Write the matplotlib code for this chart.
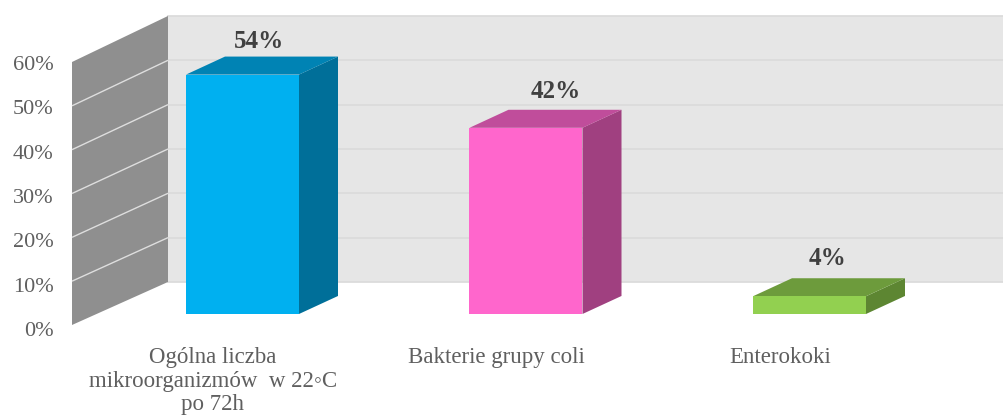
import matplotlib
matplotlib.use("Agg")
import matplotlib.pyplot as plt
from matplotlib.patches import Polygon

plt.rcParams['font.family'] = ['Liberation Serif', 'DejaVu Sans']

categories = ["Ogólna liczba\nmikroorganizmów  w 22◦C\npo 72h", "Bakterie grupy coli", "Enterokoki"]
values = [54, 42, 4]
value_labels = ["54%", "42%", "4%"]
y_ticks = [0, 10, 20, 30, 40, 50, 60]
y_tick_labels = ["0%", "10%", "20%", "30%", "40%", "50%", "60%"]

front_colors = ["#00b0f0", "#ff66cc", "#92d050"]
top_colors = ["#0083b4", "#c04d9b", "#6d9b3c"]
side_colors = ["#006f99", "#a04080", "#5d8632"]

W, H = 1004, 415
fig = plt.figure(figsize=(W / 100, H / 100), dpi=100)
ax_left, ax_bottom_px, ax_top_px = 60, 329, 63
ax = fig.add_axes([ax_left / W, (H - ax_bottom_px) / H, (W - ax_left) / W, (ax_bottom_px - ax_top_px) / H])

PX_PER_CAT = 283.5
PX_PER_PCT = 4.43
x0_px = 213
ax.set_xlim((ax_left - x0_px) / PX_PER_CAT, (W - x0_px) / PX_PER_CAT)
ax.set_ylim(0, 60)


def pt(cat, val, dx=0, dy=0):
    """Data point displaced by a pixel offset (dy positive = up)."""
    return (cat + dx / PX_PER_CAT, val + dy / PX_PER_PCT)


# wall geometry, in pixels relative to the tick-label plane
back_dy = 47
back_x = (168 - x0_px) / PX_PER_CAT
front_x = (72 - x0_px) / PX_PER_CAT
wall_front_dy = 4
right_x = (W - x0_px) / PX_PER_CAT
top = y_ticks[-1]

ax.add_patch(Polygon([pt(back_x, 0, 0, back_dy), pt(right_x, 0, 0, back_dy),
                      pt(right_x, top, 0, back_dy), pt(back_x, top, 0, back_dy)],
                     closed=True, fc="#e6e6e6", ec="none", clip_on=False, zorder=1))
ax.add_patch(Polygon([pt(front_x, 0, 0, wall_front_dy), pt(back_x, 0, 0, back_dy),
                      pt(back_x, top, 0, back_dy), pt(front_x, top, 0, wall_front_dy - 3)],
                     closed=True, fc="#8f8f8f", ec="none", clip_on=False, zorder=2))
for t in y_ticks:
    a = pt(back_x, t, 0, back_dy)
    b = pt(right_x, t, 0, back_dy)
    ax.plot([a[0], b[0]], [a[1], b[1]], color="#dcdcdc", lw=1.3, clip_on=False, zorder=1.5)
    c = pt(front_x, t, 0, wall_front_dy - 3 * t / top)
    if 0 < t < top:
        ax.plot([c[0], a[0]], [c[1], a[1]], color="#dedede", lw=1.0, clip_on=False, zorder=3,
                solid_capstyle="butt")

# bars
bar_dx, bar_dy = 29.5, 15
depth_x, depth_y = 39, 18
bar_w = 113 / PX_PER_CAT
label_offsets = [(17, 33), (30, 36), (18, 38)]
xs = list(range(len(categories)))
for i, (x, v) in enumerate(zip(xs, values)):
    cx = x + bar_dx / PX_PER_CAT
    base = bar_dy / PX_PER_PCT
    ax.bar(cx, v, width=bar_w, bottom=base, color=front_colors[i], clip_on=False, zorder=5)
    l, r = cx - bar_w / 2, cx + bar_w / 2
    ax.add_patch(Polygon([pt(r, v, 0, bar_dy), pt(r, 0, 0, bar_dy),
                          pt(r, 0, depth_x, bar_dy + depth_y), pt(r, v, depth_x, bar_dy + depth_y)],
                         closed=True, fc=side_colors[i], ec="none", clip_on=False, zorder=4))
    ax.add_patch(Polygon([pt(l, v, 0, bar_dy), pt(r, v, 0, bar_dy),
                          pt(r, v, depth_x, bar_dy + depth_y), pt(l, v, depth_x, bar_dy + depth_y)],
                         closed=True, fc=top_colors[i], ec="none", clip_on=False, zorder=4))
    ox, oy = label_offsets[i]
    lx, ly = pt(cx, v, ox, bar_dy + oy)
    ax.text(lx, ly, value_labels[i], ha="center", va="center", fontsize=18, fontweight="bold",
            color="#404040", clip_on=False, zorder=6)

ax.set_xticks(xs)
ax.set_xticklabels(categories, fontsize=16.5, color="#5f5f5f", linespacing=1.16, va="top")
ax.set_yticks(y_ticks)
ax.set_yticklabels(y_tick_labels, fontsize=16, color="#5f5f5f")
ax.tick_params(axis="both", length=0)
ax.tick_params(axis="x", pad=13)
ax.tick_params(axis="y", pad=4.5)
for s in ax.spines.values():
    s.set_visible(False)
ax.patch.set_alpha(0)

fig.savefig("out.png", dpi=100)
